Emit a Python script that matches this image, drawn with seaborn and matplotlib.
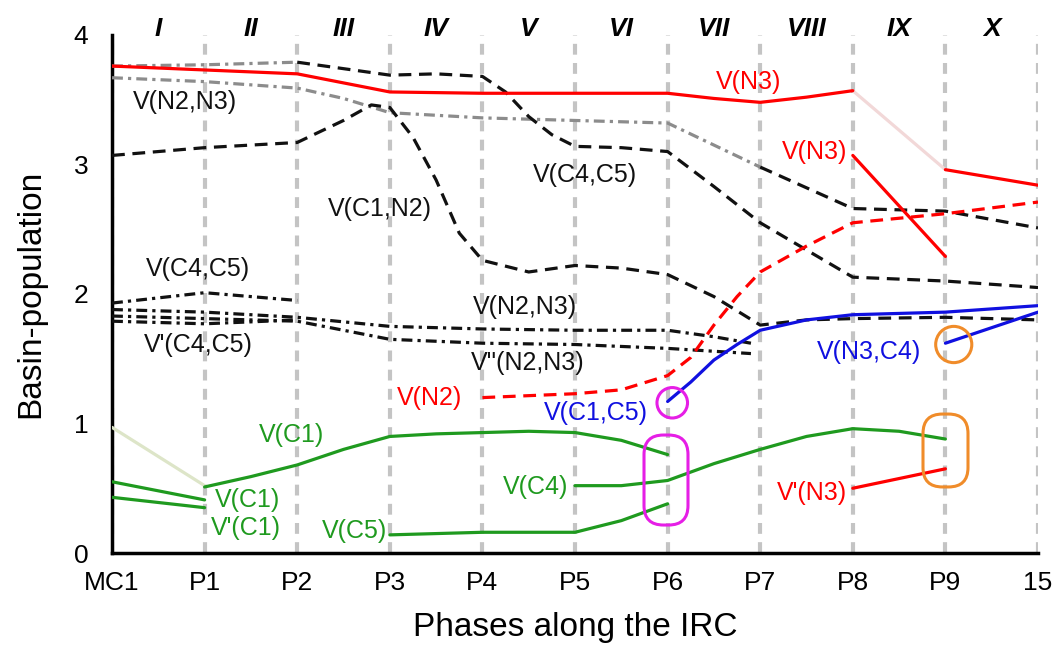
import matplotlib
matplotlib.use("Agg")
import matplotlib.pyplot as plt
from matplotlib.patches import Ellipse, FancyBboxPatch
import seaborn as sns

# ejes
fases = ["MC1", "P1", "P2", "P3", "P4", "P5", "P6", "P7", "P8", "P9", "15"]
romanos = ["I", "II", "III", "IV", "V", "VI", "VII", "VIII", "IX", "X"]

# V(N3) rojo
vn3_x = [0, 1, 2, 2.5, 3, 4, 5, 6, 6.5, 7, 7.5, 8]
vn3_y = [3.76, 3.73, 3.70, 3.63, 3.56, 3.55, 3.55, 3.55, 3.51, 3.48, 3.52, 3.57]
vn3_puente_x = [8, 9]
vn3_puente_y = [3.57, 2.96]
vn3_fin_x = [9, 10]
vn3_fin_y = [2.96, 2.84]
vn3_b_x = [8, 9]
vn3_b_y = [3.07, 2.29]
vpn3_x = [8, 9]
vpn3_y = [0.50, 0.65]

# V(N2) rojo discontinuo
vn2_x = [4, 5, 5.5, 6, 6.25, 6.5, 6.75, 7, 7.5, 8, 9, 10]
vn2_y = [1.20, 1.23, 1.26, 1.37, 1.51, 1.76, 1.98, 2.17, 2.37, 2.55, 2.62, 2.71]

# lineas grises / negras superiores
gris_a_x = [0, 1, 2]
gris_a_y = [3.76, 3.77, 3.79]
vc4c5_x = [2, 3, 3.5, 4, 4.25, 4.5, 4.75, 5, 5.5, 6, 6.5, 7, 7.5, 8, 9, 10]
vc4c5_y = [3.79, 3.69, 3.70, 3.68, 3.56, 3.37, 3.23, 3.14, 3.13, 3.10, 2.83, 2.55, 2.34, 2.13, 2.10, 2.05]
vn2n3_x = [0, 1, 2, 2.5, 3, 4, 5, 6, 6.5, 7]
vn2n3_y = [3.67, 3.64, 3.59, 3.51, 3.40, 3.36, 3.34, 3.32, 3.15, 2.98]
vn2n3_fin_x = [7, 7.5, 8, 9, 10]
vn2n3_fin_y = [2.98, 2.82, 2.66, 2.64, 2.51]
vc1n2_x = [0, 1, 2, 2.5, 2.8, 3, 3.25, 3.5, 3.75, 4, 4.5, 5, 5.5, 6, 6.5, 7, 7.5, 8, 9, 10]
vc1n2_y = [3.07, 3.13, 3.17, 3.34, 3.46, 3.44, 3.21, 2.88, 2.47, 2.26, 2.17, 2.22, 2.20, 2.15, 1.98, 1.76, 1.80, 1.81, 1.82, 1.80]

# punto-raya negras
dd_vc4c5_x = [0, 1, 2]
dd_vc4c5_y = [1.93, 2.01, 1.95]
dd_vpc4c5_x = [0, 1, 2]
dd_vpc4c5_y = [1.79, 1.77, 1.80]
dd_vn2n3_x = [0, 1, 2, 3, 4, 5, 6, 6.5, 6.9]
dd_vn2n3_y = [1.88, 1.86, 1.82, 1.75, 1.73, 1.72, 1.72, 1.67, 1.62]
dd_vppn2n3_x = [0, 1, 2, 3, 4, 5, 6, 6.9]
dd_vppn2n3_y = [1.83, 1.81, 1.79, 1.65, 1.62, 1.61, 1.58, 1.54]

# azules
vc1c5_x = [6, 6.25, 6.5, 6.75, 7, 7.5, 8, 9, 10]
vc1c5_y = [1.17, 1.32, 1.49, 1.61, 1.72, 1.80, 1.84, 1.86, 1.91]
vn3c4_x = [9, 10]
vn3c4_y = [1.62, 1.86]

# verdes
vc1_puente_x = [0, 1]
vc1_puente_y = [0.97, 0.52]
vc1_x = [1, 1.5, 2, 2.5, 3, 3.5, 4, 4.5, 5, 5.5, 6]
vc1_y = [0.51, 0.59, 0.68, 0.80, 0.90, 0.92, 0.93, 0.94, 0.93, 0.87, 0.76]
vc1_b_x = [0, 1]
vc1_b_y = [0.55, 0.41]
vpc1_x = [0, 1]
vpc1_y = [0.43, 0.35]
vc5_x = [3, 4, 5, 5.5, 6]
vc5_y = [0.14, 0.16, 0.16, 0.25, 0.38]
vc4_x = [5, 5.5, 6, 6.5, 7, 7.5, 8, 8.5, 9]
vc4_y = [0.52, 0.52, 0.56, 0.69, 0.80, 0.90, 0.96, 0.94, 0.88]

ROJO = "#ff0000"
VERDE = "#1f9a1f"
AZUL = "#1010e0"
GRIS = "#8c8c8c"
NEGRO = "#111111"

DASH = (0, (4.0, 2.4))
DASHDOT = (0, (3.4, 1.6, 1.0, 1.6))

sns.set_theme(style="white")
plt.rcParams["font.family"] = ["Liberation Sans", "DejaVu Sans"]

fig = plt.figure(figsize=(10.58, 6.48), dpi=100)
ax = fig.add_axes([0.1059, 0.1466, 0.8752, 0.7994])


def linea(xs, ys, color, ls="-", lw=2.3, z=3):
    sns.lineplot(x=xs, y=ys, ax=ax, color=color, linestyle=ls, linewidth=lw,
                 estimator=None, sort=False, legend=False, zorder=z)


# puentes claros
linea(vn3_puente_x, vn3_puente_y, "#f2d8d8")
linea(vc1_puente_x, vc1_puente_y, "#dde5c8")

# grises y negras
linea(gris_a_x, gris_a_y, GRIS, DASHDOT)
linea(vn2n3_x, vn2n3_y, GRIS, DASHDOT)
linea(vn2n3_fin_x, vn2n3_fin_y, NEGRO, DASH)
linea(vc4c5_x, vc4c5_y, NEGRO, DASH)
linea(vc1n2_x, vc1n2_y, NEGRO, DASH)
linea(dd_vc4c5_x, dd_vc4c5_y, NEGRO, DASHDOT)
linea(dd_vpc4c5_x, dd_vpc4c5_y, NEGRO, DASHDOT)
linea(dd_vn2n3_x, dd_vn2n3_y, NEGRO, DASHDOT)
linea(dd_vppn2n3_x, dd_vppn2n3_y, NEGRO, DASHDOT)

# rojas
linea(vn3_x, vn3_y, ROJO)
linea(vn3_fin_x, vn3_fin_y, ROJO)
linea(vn3_b_x, vn3_b_y, ROJO)
linea(vpn3_x, vpn3_y, ROJO)
linea(vn2_x, vn2_y, ROJO, DASH)

# azules
linea(vc1c5_x, vc1c5_y, AZUL)
linea(vn3c4_x, vn3c4_y, AZUL)

# verdes
linea(vc1_x, vc1_y, VERDE)
linea(vc1_b_x, vc1_b_y, VERDE)
linea(vpc1_x, vpc1_y, VERDE)
linea(vc5_x, vc5_y, VERDE)
linea(vc4_x, vc4_y, VERDE)

# marcas (circulos y cajas redondeadas)
ax.add_patch(Ellipse((6.05, 1.16), 0.33, 0.235, fill=False, ec="#e61ee6", lw=2.2, zorder=4))
ax.add_patch(Ellipse((9.09, 1.61), 0.39, 0.28, fill=False, ec="#f08c2a", lw=2.2, zorder=4))
ax.add_patch(FancyBboxPatch((5.745, 0.216), 0.475, 0.695,
                            boxstyle="round,pad=0,rounding_size=0.21",
                            mutation_aspect=0.715, fill=False, ec="#e61ee6", lw=2.2, zorder=4))
ax.add_patch(FancyBboxPatch((8.758, 0.51), 0.486, 0.563,
                            boxstyle="round,pad=0,rounding_size=0.21",
                            mutation_aspect=0.715, fill=False, ec="#f08c2a", lw=2.2, zorder=4))

# etiquetas
etiquetas = [
    ("V(N2,N3)", 0.79, 3.48, NEGRO),
    ("V(N3)", 6.87, 3.64, ROJO),
    ("V(N3)", 7.59, 3.10, ROJO),
    ("V(C4,C5)", 5.11, 2.92, NEGRO),
    ("V(C1,N2)", 2.89, 2.66, NEGRO),
    ("V(C4,C5)", 0.93, 2.19, NEGRO),
    ("V'(C4,C5)", 0.93, 1.61, NEGRO),
    ("V(N2,N3)", 4.46, 1.90, NEGRO),
    ("V''(N2,N3)", 4.49, 1.47, NEGRO),
    ("V(N2)", 3.43, 1.20, ROJO),
    ("V(C1,C5)", 5.23, 1.08, AZUL),
    ("V(N3,C4)", 8.18, 1.55, AZUL),
    ("V(C1)", 1.94, 0.91, VERDE),
    ("V(C1)", 1.46, 0.41, VERDE),
    ("V'(C1)", 1.45, 0.19, VERDE),
    ("V(C5)", 2.62, 0.17, VERDE),
    ("V(C4)", 4.57, 0.51, VERDE),
    ("V'(N3)", 7.56, 0.46, ROJO),
]
for txt, x, y, c in etiquetas:
    ax.text(x, y, txt, color=c, fontsize=18, ha="center", va="center", zorder=5)

for i, r in enumerate(romanos):
    ax.text(i + 0.5, 4.05, r, fontsize=19, fontweight="bold", fontstyle="italic",
            color="black", ha="center", va="center", clip_on=False)

ax.set_xlim(0, 10)
ax.set_ylim(0, 4)
ax.set_xticks(range(len(fases)))
ax.set_xticklabels(fases)
ax.set_yticks([0, 1, 2, 3, 4])
ax.tick_params(axis="both", direction="out", length=7, width=2.5, color="black",
               labelsize=19, labelcolor="black")
ax.tick_params(axis="x", pad=6)
ax.tick_params(axis="y", pad=10)
ax.grid(axis="x", color="#c4c4c4", linestyle=(0, (2.6, 2.0)), linewidth=3, zorder=0)
ax.grid(axis="y", visible=False)
ax.set_axisbelow(True)

for lado in ["top", "right"]:
    ax.spines[lado].set_visible(False)
for lado in ["left", "bottom"]:
    ax.spines[lado].set_color("black")
    ax.spines[lado].set_linewidth(2.5)

ax.set_xlabel("Phases along the IRC", fontsize=24, labelpad=12, color="black")
ax.set_ylabel("Basin-population", fontsize=24, labelpad=20, color="black")

plt.savefig("out.png", dpi=100)
plt.close()
